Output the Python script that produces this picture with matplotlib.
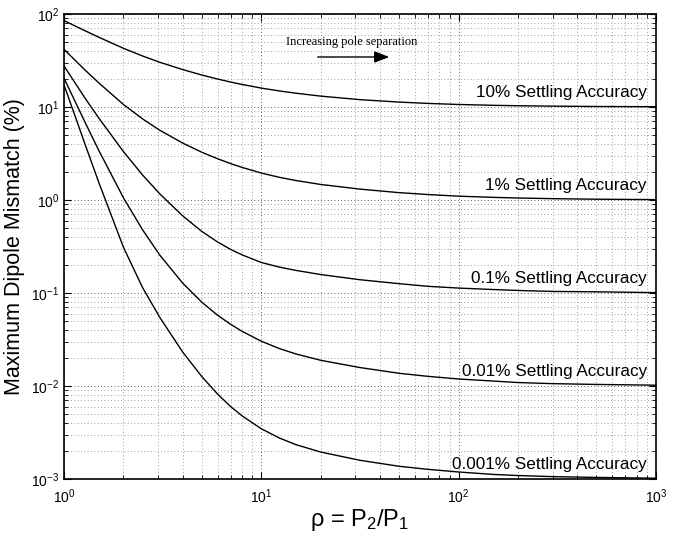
import numpy as np
import matplotlib
matplotlib.use("Agg")
from matplotlib import pyplot as plt

plt.rcParams['font.family'] = ['Liberation Sans', 'DejaVu Sans']
plt.rcParams['mathtext.fontset'] = 'custom'
plt.rcParams['mathtext.rm'] = 'Liberation Sans'
plt.rcParams['mathtext.it'] = 'Liberation Sans:italic'

# pole ratio rho = P2/P1
rho = [1, 1.28, 1.5, 2, 2.5, 3.07, 4, 5, 6, 7, 8, 10, 12.4, 15, 20, 31.6, 50, 70,
       100, 150, 200, 300, 500, 1000]

# maximum dipole mismatch (%) for each settling accuracy
acc_10 = [85, 66.0, 56.3, 42.8, 35.4, 30.2, 25.25, 22.07, 20.0, 18.55, 17.47, 15.98,
          14.87, 14.07, 13.1, 12.0, 11.3, 10.93, 10.65, 10.43, 10.32, 10.22, 10.13, 10.07]
acc_1 = [41.7, 24.9, 18.2, 10.65, 7.46, 5.6, 4.09, 3.26, 2.78, 2.46, 2.24, 1.95, 1.75,
         1.62, 1.47, 1.31, 1.20, 1.145, 1.10, 1.068, 1.051, 1.034, 1.02, 1.01]
acc_01 = [27.6, 12.4, 7.62, 3.32, 1.86, 1.155, 0.674, 0.459, 0.354, 0.294, 0.257, 0.213,
          0.1895, 0.175, 0.158, 0.139, 0.126, 0.118, 0.113, 0.109, 0.1065, 0.104, 0.103, 0.101]
acc_001 = [20.4, 6.81, 3.42, 1.058, 0.479, 0.253, 0.1274, 0.0795, 0.0578, 0.046, 0.0387,
           0.0303, 0.0252, 0.0221, 0.0189, 0.0158, 0.0137, 0.0127, 0.0119, 0.0113,
           0.0109, 0.0106, 0.0104, 0.0102]
acc_0001 = [17.3, 3.95, 1.55, 0.311, 0.1146, 0.054, 0.0231, 0.0126, 0.0082, 0.006,
            0.00477, 0.00347, 0.00275, 0.00234, 0.00195, 0.00159, 0.00137, 0.00127,
            0.00119, 0.00112, 0.00109, 0.00106, 0.00104, 0.00102]

curves = [acc_10, acc_1, acc_01, acc_001, acc_0001]
labels = ["10% Settling Accuracy", "1% Settling Accuracy", "0.1% Settling Accuracy",
          "0.01% Settling Accuracy", "0.001% Settling Accuracy"]
asymptotes = [10, 1, 0.1, 0.01, 0.001]

fig = plt.figure(figsize=(6.81, 5.33), dpi=100)
ax = fig.add_axes([0.094, 0.1013, 0.869, 0.8724])

for c in curves:
    ax.plot(rho, c, color='k', lw=1.0)

ax.set_xscale('log')
ax.set_yscale('log')
ax.set_xlim(1, 1000)
ax.set_ylim(1e-3, 1e2)

ax.grid(True, which='major', linestyle=(0, (1, 3)), color='0.15', lw=0.6)
ax.grid(True, which='minor', linestyle=(0, (1, 3)), color='0.5', lw=0.6)
ax.tick_params(which='both', direction='in', top=True, right=True, labelsize=10)
ax.tick_params(which='major', length=5, width=0.8)
ax.tick_params(which='minor', length=3, width=0.6)
ax.tick_params(axis='x', pad=6)
for s in ax.spines.values():
    s.set_linewidth(1.2)

for lab, a in zip(labels, asymptotes):
    ax.text(900, a * 1.19, lab, ha='right', va='bottom', fontsize=12.3)

ax.text(28.8, 50, "Increasing pole separation", ha='center', va='center',
        fontsize=9, family='Liberation Serif')
ax.annotate("", xy=(46, 34.5), xytext=(18.7, 34.5),
            arrowprops=dict(arrowstyle='-|>,head_length=0.9,head_width=0.35', color='k', lw=1.0))

ax.set_xlabel(r"ρ = P$_2$/P$_1$", fontsize=17, labelpad=1)
ax.set_ylabel("Maximum Dipole Mismatch (%)", fontsize=15.5, labelpad=4)

fig.savefig("out.png", dpi=100)
